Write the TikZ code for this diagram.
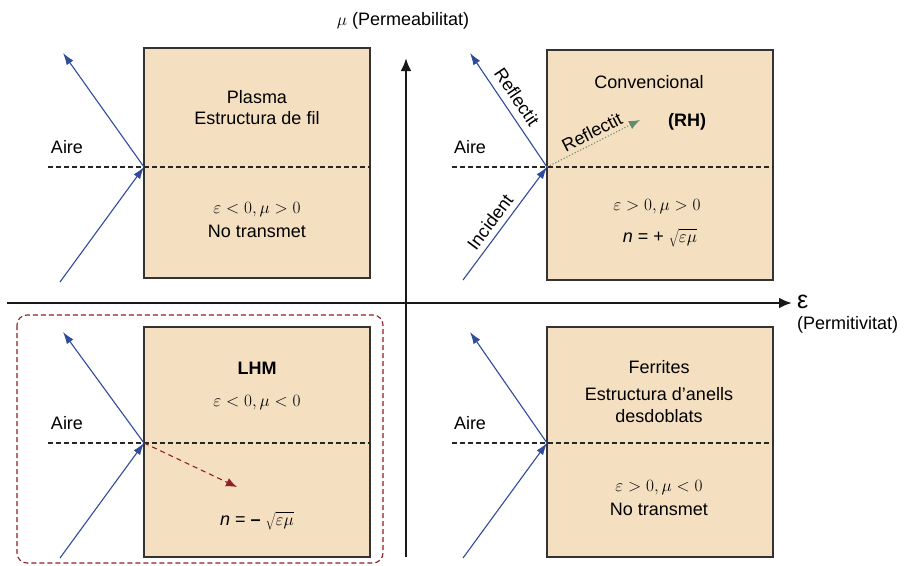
\documentclass[tikz,border=0pt]{standalone}
\usepackage{fontspec}
\setmainfont{Liberation Sans}
\usetikzlibrary{positioning, arrows.meta, calc}
\definecolor{boxfill}{HTML}{F4E0C1}
\definecolor{raycol}{HTML}{2F4B9C}
\definecolor{lhmred}{HTML}{8E1F26}
\definecolor{rhgreen}{HTML}{5E8C6E}

\begin{document}
\begin{tikzpicture}[x=1pt, y=-1pt,
    every node/.style={font=\fontsize{18}{22}\selectfont, inner sep=0pt},
    medium/.style={draw=black!80, line width=1.4pt, fill=boxfill},
    iface/.style={dashed, black!85, line width=1.1pt, dash pattern=on 5pt off 3pt},
    ray/.style={-{Latex[length=12pt, width=8pt]}, raycol, line width=1.1pt},
    axis/.style={-{Latex[length=13pt, width=11pt]}, black!90, line width=2.6pt}]
  \useasboundingbox (0,0) rectangle (904,565);
  % media
  \draw[medium] (144,48) rectangle (370,278);
  \draw[medium] (547,50) rectangle (773,280);
  \draw[medium] (144,327) rectangle (370,557);
  \draw[medium] (547,327) rectangle (773,557);
  % axes
  \coordinate (xfrom) at (7,303);
  \coordinate (xto) at (792,303);
  \coordinate (yfrom) at (406,557);
  \coordinate (yto) at (406,58);
  \draw[axis] (xfrom) -- (xto);
  \draw[axis] (yfrom) -- (yto);
  \node[anchor=west, font=\fontsize{25}{25}\selectfont] (epslbl) at (797,302) {ε};
  \node[anchor=west] (permit) at (797,325) {(Permitivitat)};
  \node (permea) at (403,21) {$\mu$ (Permeabilitat)};
  % LHM frame
  \draw[lhmred, line width=1.1pt, dash pattern=on 5pt off 3pt, rounded corners=10pt]
    (17,315) rectangle (383,563);
  % interfaces and rays
  \coordinate (tlhit) at (144,167);
  \coordinate (trhit) at (547,167);
  \coordinate (blhit) at (144,443);
  \coordinate (brhit) at (547,443);
  \coordinate (tlair) at (48,167);   \coordinate (tlend) at (370,167);
  \coordinate (trair) at (452,167);  \coordinate (trend) at (773,167);
  \coordinate (blair) at (48,443);   \coordinate (blend) at (370,443);
  \coordinate (brair) at (452,443);  \coordinate (brend) at (773,443);
  \draw[iface] (tlair) -- (tlend);
  \draw[iface] (trair) -- (trend);
  \draw[iface] (blair) -- (blend);
  \draw[iface] (brair) -- (brend);
  \coordinate (tlin) at (60,282);   \coordinate (tlout) at (63,53);
  \coordinate (trin) at (463,280);  \coordinate (trout) at (470,53);
  \coordinate (blin) at (60,558);   \coordinate (blout) at (63,332);
  \coordinate (brin) at (463,558);  \coordinate (brout) at (470,332);
  \draw[ray] (tlin) -- (tlhit);
  \draw[ray] (tlhit) -- (tlout);
  \draw[ray] (trin) -- (trhit);
  \draw[ray] (trhit) -- (trout);
  \draw[ray] (blin) -- (blhit);
  \draw[ray] (blhit) -- (blout);
  \draw[ray] (brin) -- (brhit);
  \draw[ray] (brhit) -- (brout);
  \coordinate (rhtip) at (640,120);
  \coordinate (lhmtip) at (237,487);
  \draw[rhgreen, line width=1.1pt, dotted, -{Latex[length=11pt, width=9pt]}] (trhit) -- (rhtip);
  \draw[lhmred, line width=1.1pt, dash pattern=on 5pt off 4pt, -{Latex[length=11pt, width=9pt]}] (blhit) -- (lhmtip);
  % air labels
  \node (tlaire) at (67,147) {Aire};
  \node (traire) at (470,147) {Aire};
  \node (blaire) at (67,423) {Aire};
  \node (braire) at (470,423) {Aire};
  % ray labels
  \node[rotate=-56] (refl) at (517,97) {Reflectit};
  \node[rotate=53] (incid) at (490,222) {Incident};
  \node[rotate=27] (refr) at (592,132) {Reflectit};
  % plasma
  \node (plasma) at (257,97) {Plasma};
  \node (fil) at (257,118) {Estructura de fil};
  \node (plcond) at (257,210) {$\varepsilon<0,\mu>0$};
  \node (plno) at (257,231) {No transmet};
  % conventional
  \node (conv) at (649,82) {Convencional};
  \node[font=\fontsize{18}{22}\selectfont\bfseries] (rh) at (687,122) {(RH)};
  \node (rhcond) at (657,207) {$\varepsilon>0,\mu>0$};
  \node (rhn) at (660,238) {\textit{n} = + $\sqrt{\vphantom{I_j}\varepsilon\mu}$};
  % LHM
  \node[font=\fontsize{18}{22}\selectfont\bfseries] (lhm) at (257,368) {LHM};
  \node (lhmcond) at (257,403) {$\varepsilon<0,\mu<0$};
  \node (lhmn) at (257,521) {\textit{n} = \textbf{–} $\sqrt{\vphantom{I_j}\varepsilon\mu}$};
  % ferrites
  \node (ferr) at (659,367) {Ferrites};
  \node (anells) at (659,394) {Estructura d’anells};
  \node (desd) at (659,416) {desdoblats};
  \node (frcond) at (659,488) {$\varepsilon>0,\mu<0$};
  \node (frno) at (659,509) {No transmet};
\end{tikzpicture}
\end{document}
